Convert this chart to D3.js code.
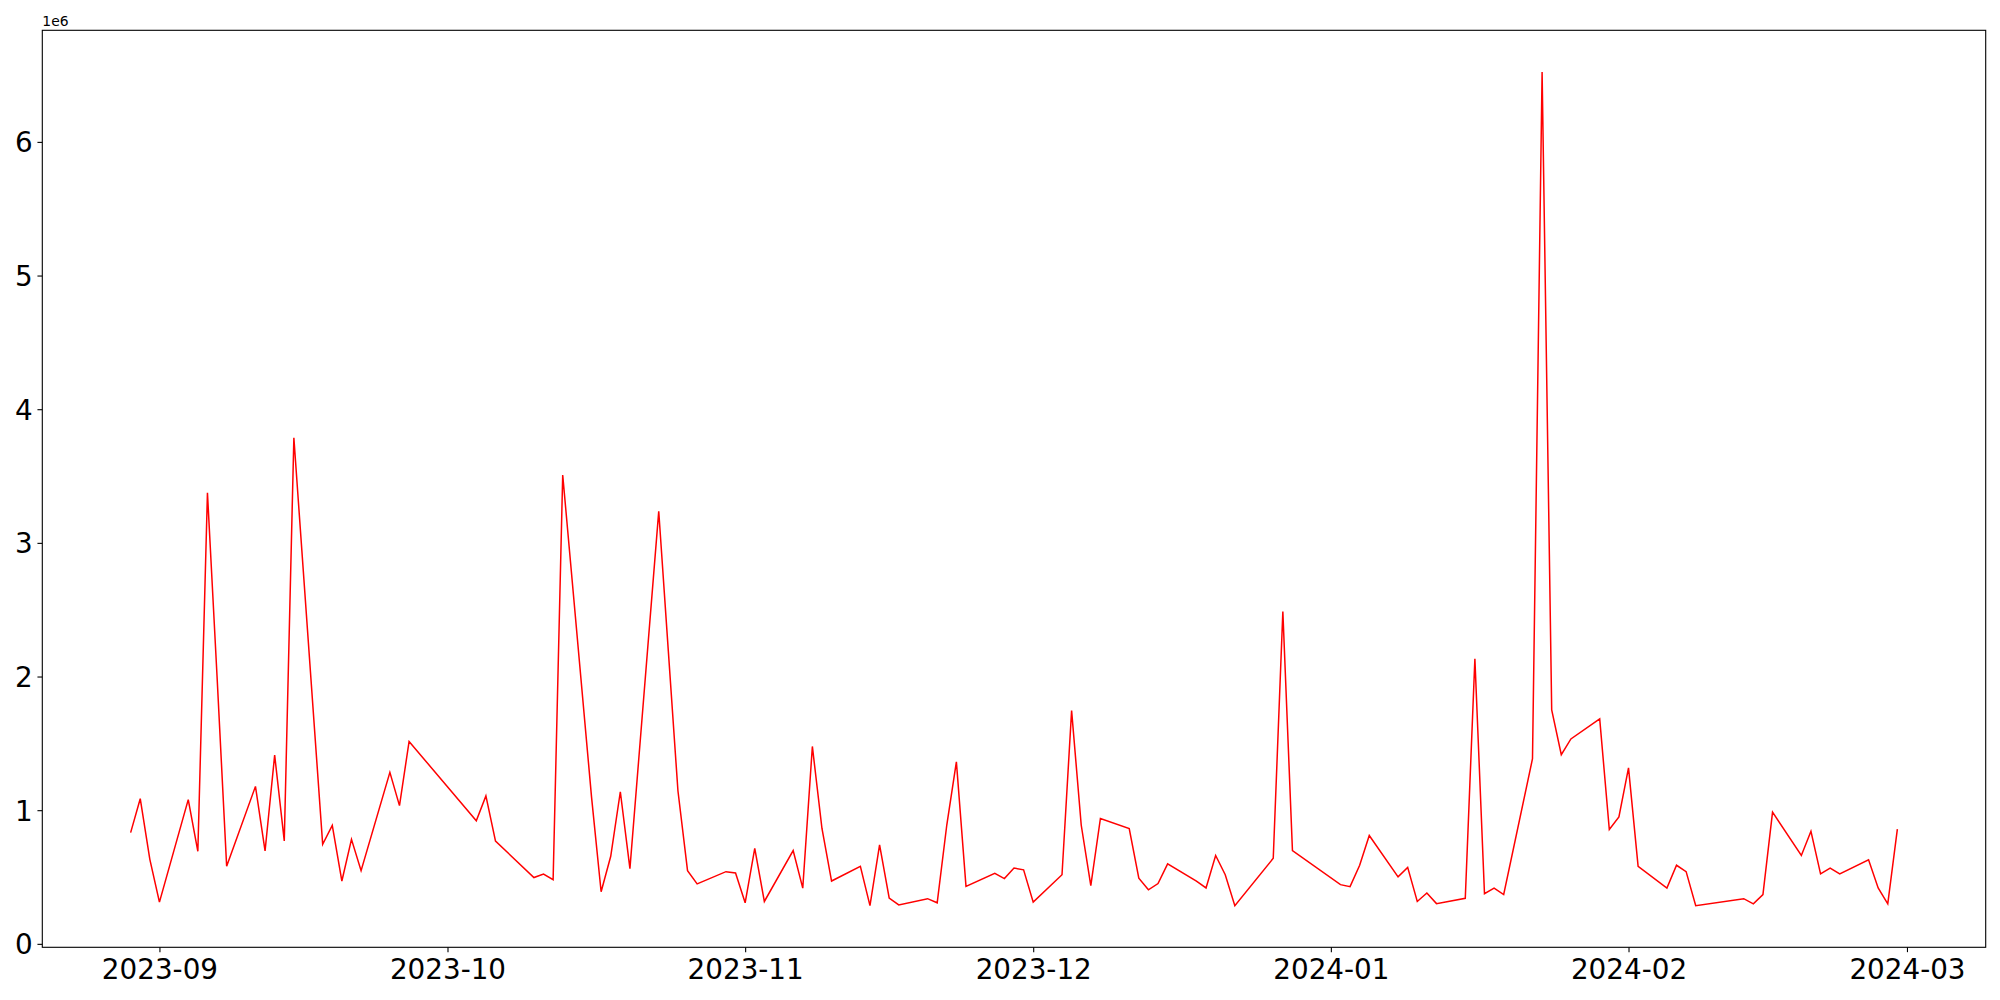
<!DOCTYPE html>
<html>
<head>
<meta charset="utf-8">
<script src="https://cdn.jsdelivr.net/npm/d3@7"></script>
<style>
  html, body { margin: 0; padding: 0; background: #fff; }
  svg { display: block; }
  text { font-family: "DejaVu Sans", sans-serif; }
</style>
</head>
<body>
<svg id="chart" width="2000" height="1000"></svg>
<script>
// ---- data ----
const dates = [
  "2023-08-29","2023-08-30","2023-08-31","2023-09-01","2023-09-04","2023-09-05","2023-09-06","2023-09-07","2023-09-08",
  "2023-09-11","2023-09-12","2023-09-13","2023-09-14","2023-09-15","2023-09-18","2023-09-19","2023-09-20","2023-09-21","2023-09-22",
  "2023-09-25","2023-09-26","2023-09-27","2023-10-04","2023-10-05","2023-10-06","2023-10-10","2023-10-11","2023-10-12","2023-10-13",
  "2023-10-16","2023-10-17","2023-10-18","2023-10-19","2023-10-20","2023-10-23","2023-10-24","2023-10-25","2023-10-26","2023-10-27",
  "2023-10-30","2023-10-31","2023-11-01","2023-11-02","2023-11-03","2023-11-06","2023-11-07","2023-11-08","2023-11-09","2023-11-10",
  "2023-11-13","2023-11-14","2023-11-15","2023-11-16","2023-11-17","2023-11-20","2023-11-21","2023-11-22","2023-11-23","2023-11-24",
  "2023-11-27","2023-11-28","2023-11-29","2023-11-30","2023-12-01","2023-12-04","2023-12-05","2023-12-06","2023-12-07","2023-12-08",
  "2023-12-11","2023-12-12","2023-12-13","2023-12-14","2023-12-15","2023-12-18","2023-12-19","2023-12-20","2023-12-21","2023-12-22",
  "2023-12-26","2023-12-27","2023-12-28","2024-01-02","2024-01-03","2024-01-04","2024-01-05","2024-01-08","2024-01-09","2024-01-10",
  "2024-01-11","2024-01-12","2024-01-15","2024-01-16","2024-01-17","2024-01-18","2024-01-19","2024-01-22","2024-01-23","2024-01-24",
  "2024-01-25","2024-01-26","2024-01-29","2024-01-30","2024-01-31","2024-02-01","2024-02-02","2024-02-05","2024-02-06","2024-02-07",
  "2024-02-08","2024-02-13","2024-02-14","2024-02-15","2024-02-16","2024-02-19","2024-02-20","2024-02-21","2024-02-22","2024-02-23",
  "2024-02-26","2024-02-27","2024-02-28","2024-02-29"
];
const values = [
  832000,1086000,632000,312000,1079000,692000,3374000,2000000,580000,
  1178000,695000,1412000,770000,3786000,745000,887000,470000,782000,548000,
  1283000,1034000,1514000,921000,1107000,769000,496000,522000,480000,3508000,
  1100000,390000,655000,1138000,563000,3236000,2190000,1145000,548000,449000,
  540000,530000,307000,714000,317000,698000,417000,1477000,863000,470000,
  580000,286000,740000,343000,291000,338000,307000,889000,1362000,430000,
  527000,488000,567000,554000,312000,517000,1745000,889000,435000,938000,
  863000,491000,404000,451000,598000,470000,418000,661000,517000,286000,
  640000,2487000,698000,443000,428000,588000,811000,501000,572000,317000,
  380000,301000,341000,2133000,375000,417000,369000,1385000,6523000,1750000,
  1415000,1533000,1683000,855000,949000,1317000,580000,417000,588000,540000,
  286000,338000,299000,369000,986000,661000,842000,524000,567000,524000,
  629000,418000,299000,858000
];
const xTickLabels = ["2023-09","2023-10","2023-11","2023-12","2024-01","2024-02","2024-03"];
const yTickValues = [0, 1000000, 2000000, 3000000, 4000000, 5000000, 6000000];
const yTickLabels = ["0","1","2","3","4","5","6"];
const offsetLabel = "1e6";

// ---- layout ----
const W = 2000, H = 1000;
const L = 42.3, R = 1985.7, T = 30.3, B = 947.3;
const fontPx = 27.8;
const tickLen = 4.86, pad = 4.86;

const parse = d3.utcParse("%Y-%m-%d");
const parseM = d3.utcParse("%Y-%m");
const data = dates.map((d, i) => ({ date: parse(d), value: values[i] }));

const xExt = d3.extent(data, d => +d.date);
const xPad = (xExt[1] - xExt[0]) * 0.05;
const x = d3.scaleUtc().domain([new Date(xExt[0] - xPad), new Date(xExt[1] + xPad)]).range([L, R]);

const yExt = d3.extent(values);
const yPad = (yExt[1] - yExt[0]) * 0.05;
const y = d3.scaleLinear().domain([yExt[0] - yPad, yExt[1] + yPad]).range([B, T]);

const svg = d3.select("#chart");
svg.append("rect").attr("width", W).attr("height", H).attr("fill", "#fff");

// line
const line = d3.line().x(d => x(d.date)).y(d => y(d.value));
svg.append("path")
  .datum(data)
  .attr("fill", "none")
  .attr("stroke", "#ff0000")
  .attr("stroke-width", 1.5)
  .attr("stroke-linejoin", "miter")
  .attr("d", line);

// x axis
const xTicks = xTickLabels.map(s => parseM(s));
const xAxis = d3.axisBottom(x)
  .tickValues(xTicks)
  .tickSize(tickLen)
  .tickPadding(pad)
  .tickFormat((d, i) => xTickLabels[i]);
const gx = svg.append("g").attr("transform", `translate(0,${B})`).call(xAxis);
gx.select(".domain").remove();
gx.selectAll(".tick line").attr("stroke", "#000").attr("stroke-width", 1.1);
gx.selectAll(".tick text")
  .attr("fill", "#000")
  .attr("font-family", "DejaVu Sans")
  .attr("font-size", fontPx)
  .attr("y", 32.2)
  .attr("dy", null);

// y axis
const yAxis = d3.axisLeft(y)
  .tickValues(yTickValues)
  .tickSize(tickLen)
  .tickPadding(pad)
  .tickFormat((d, i) => yTickLabels[i]);
const gy = svg.append("g").attr("transform", `translate(${L},0)`).call(yAxis);
gy.select(".domain").remove();
gy.selectAll(".tick line").attr("stroke", "#000").attr("stroke-width", 1.1);
gy.selectAll(".tick text")
  .attr("fill", "#000")
  .attr("font-family", "DejaVu Sans")
  .attr("font-size", fontPx)
  .attr("dy", "0.36em");

// spines
svg.append("rect")
  .attr("x", L).attr("y", T)
  .attr("width", R - L).attr("height", B - T)
  .attr("fill", "none")
  .attr("stroke", "#000")
  .attr("stroke-width", 1.1);

// offset text
svg.append("text")
  .attr("x", L)
  .attr("y", T - 4.8)
  .attr("font-family", "DejaVu Sans")
  .attr("font-size", 13.9)
  .attr("fill", "#000")
  .text(offsetLabel);
</script>
</body>
</html>
